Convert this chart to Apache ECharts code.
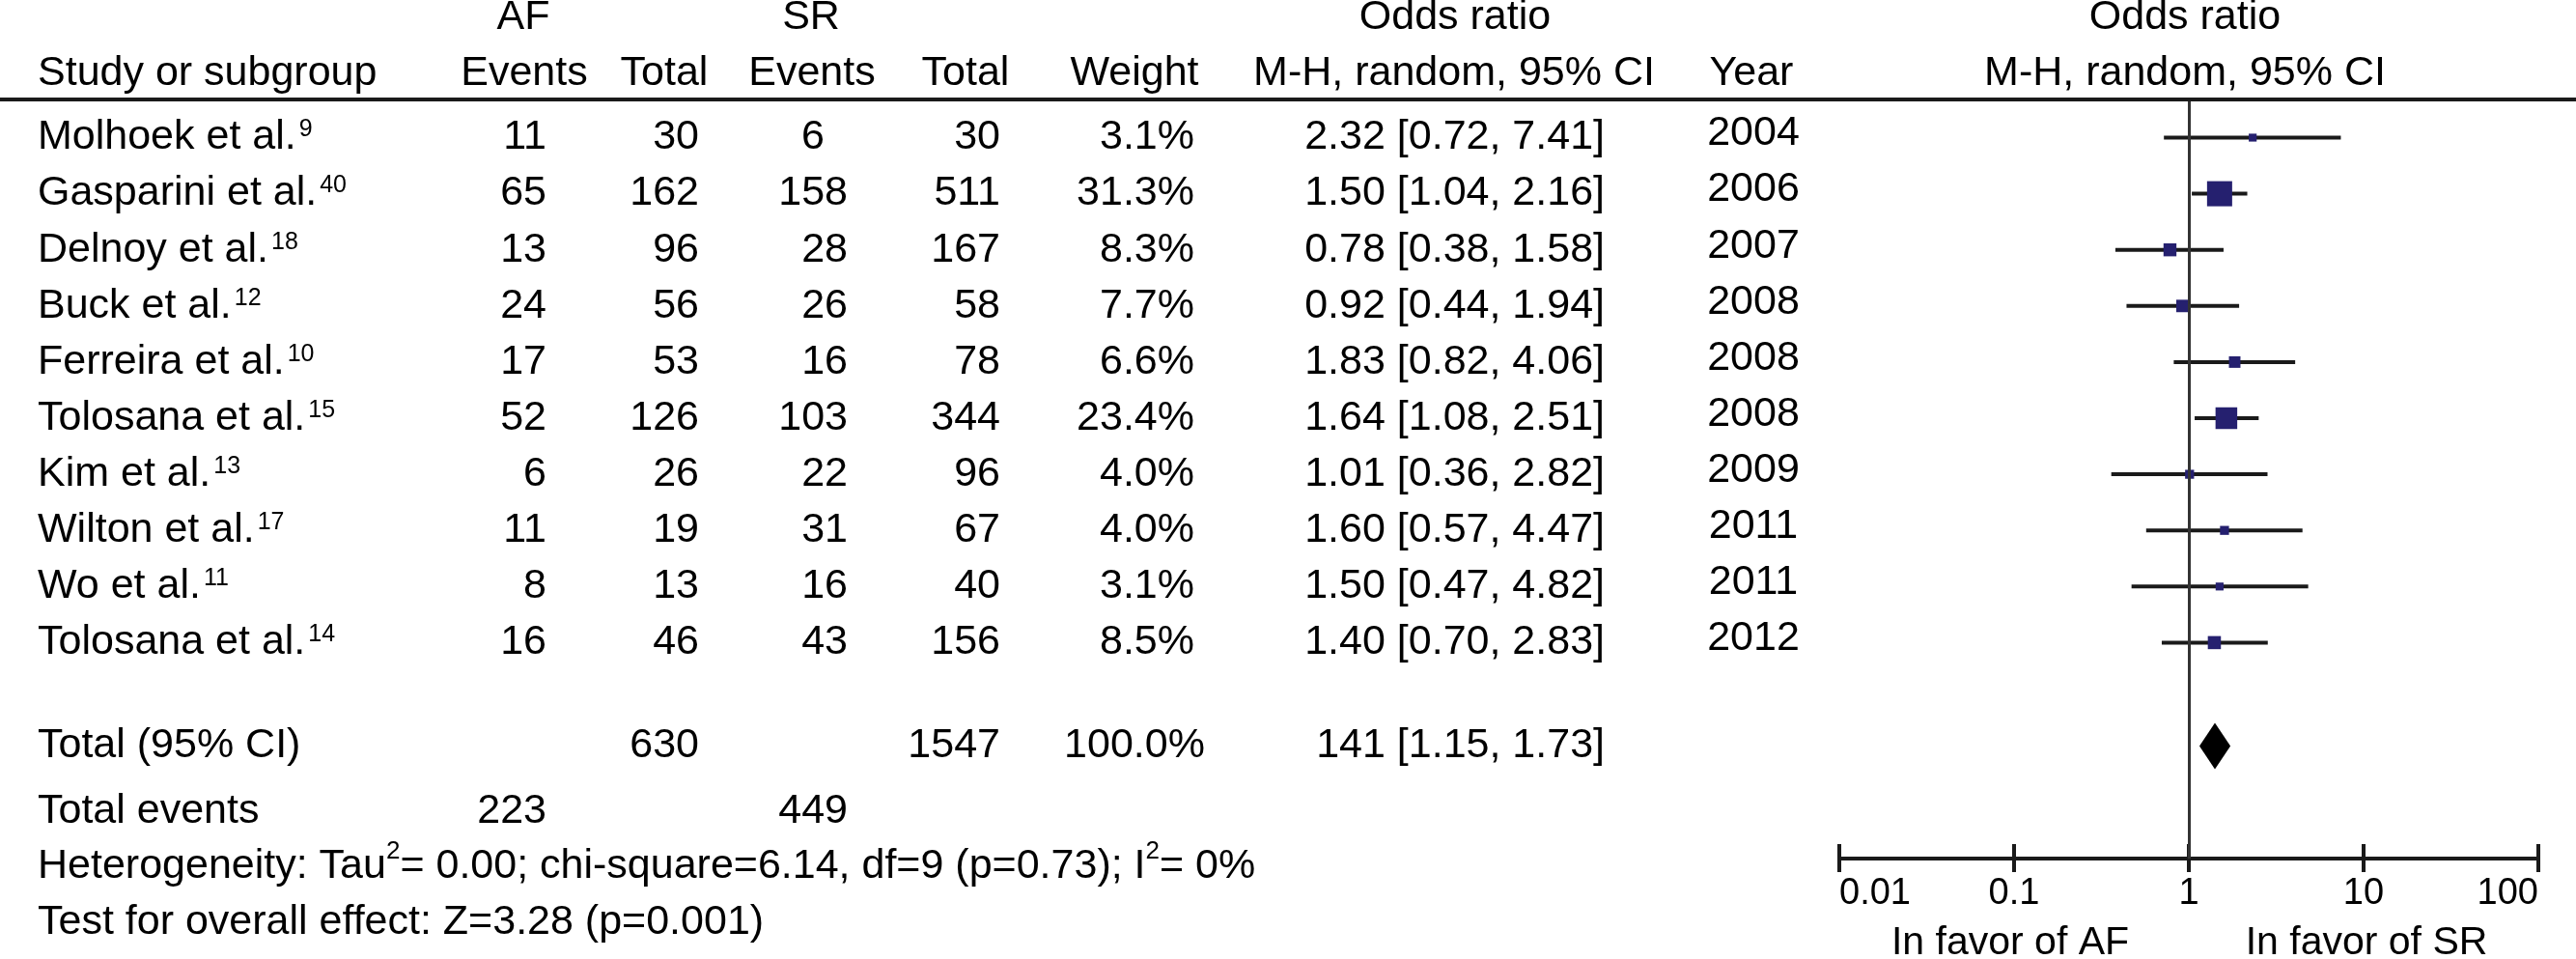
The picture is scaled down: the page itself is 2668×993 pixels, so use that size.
<!DOCTYPE html>
<html><head><meta charset="utf-8">
<script src="https://cdn.jsdelivr.net/npm/echarts@6/dist/echarts.min.js"></script>
<style>html,body{margin:0;padding:0;background:#fff}#c{width:2668px;height:993px}</style>
</head><body><div id="c"></div>
<script>
// ---------------- DATA ----------------
const studies = ['Molhoek et al.', 'Gasparini et al.', 'Delnoy et al.', 'Buck et al.', 'Ferreira et al.', 'Tolosana et al.', 'Kim et al.', 'Wilton et al.', 'Wo et al.', 'Tolosana et al.'];
const refs = ['9', '40', '18', '12', '10', '15', '13', '17', '11', '14'];
const afEvents = [11, 65, 13, 24, 17, 52, 6, 11, 8, 16];
const afTotal = [30, 162, 96, 56, 53, 126, 26, 19, 13, 46];
const srEvents = [6, 158, 28, 26, 16, 103, 22, 31, 16, 43];
const srTotal = [30, 511, 167, 58, 78, 344, 96, 67, 40, 156];
const weights = [3.1, 31.3, 8.3, 7.7, 6.6, 23.4, 4.0, 4.0, 3.1, 8.5];
const oddsRatio = [2.32, 1.50, 0.78, 0.92, 1.83, 1.64, 1.01, 1.60, 1.50, 1.40];
const ciLow = [0.72, 1.04, 0.38, 0.44, 0.82, 1.08, 0.36, 0.57, 0.47, 0.70];
const ciHigh = [7.41, 2.16, 1.58, 1.94, 4.06, 2.51, 2.82, 4.47, 4.82, 2.83];
const years = [2004, 2006, 2007, 2008, 2008, 2008, 2009, 2011, 2011, 2012];
const totalLabel = 'Total (95% CI)';
const totalAF = 630, totalSR = 1547, totalWeight = '100.0%';
const totalOR = 1.41, totalLow = 1.15, totalHigh = 1.73;
const totalORLabel = '141 [1.15, 1.73]';
const eventsLabel = 'Total events';
const eventsAF = 223, eventsSR = 449;
const heterogeneityText = 'Heterogeneity: Tau{h|2}= 0.00; chi-square=6.14, df=9 (p=0.73); I{h|2}= 0%';
const overallText = 'Test for overall effect: Z=3.28 (p=0.001)';
const tickValues = [0.01, 0.1, 1, 10, 100];
const tickLabels = ['0.01', '0.1', '1', '10', '100'];
const favorLabels = ['In favor of AF', 'In favor of SR'];
const groupHeaders = ['AF', 'SR', 'Odds ratio', 'Odds ratio'];
const columnHeaders = ['Study or subgroup', 'Events', 'Total', 'Events', 'Total', 'Weight', 'M-H, random, 95% CI', 'Year', 'M-H, random, 95% CI'];

// ---------------- LAYOUT / STYLE ----------------
const FONT = '"Liberation Sans", Arial, Helvetica, sans-serif';
const FS = 43;
const W = 2668, H = 993;
const GRID_LEFT = 1905, GRID_RIGHT_X = 2629, GRID_TOP = 103, AXIS_Y = 889;
const ROW_PX = 58.1, FIRST_ROW_Y = 142.5;
const yMin = -(FIRST_ROW_Y - GRID_TOP) / ROW_PX;
const yMax = yMin + (AXIS_Y - GRID_TOP) / ROW_PX;
const slot = px => (px - FIRST_ROW_Y) / ROW_PX;
const COL = { name: 39, afE: 566, afT: 724, srE: 878, srEc: 842, srT: 1036, wt: 1237, wtC: 1175, or: 1662, year: 1816 };
const groupHeaderX = [542, 840, 1507, 2263];
const columnHeaderX = [39, 543, 688, 841, 1000, 1175, 1506, 1814, 2263];
const HEAD1_Y = 18, HEAD2_Y = 76;
const SQUARE_COLOR = '#25206f';
const LINE_COLOR = '#1a1a1a';

const SUP_RICH = { s: { fontSize: 25, fontFamily: FONT, fill: '#000', color: '#000', padding: [0, 0, 16, 3] } };
const HET_RICH = { h: { fontSize: 26, fontFamily: FONT, fill: '#000', color: '#000', padding: [0, 0, 30, 0] } };

function T(x, y, text, align, extra) {
  return {
    type: 'text',
    style: Object.assign({
      x: x, y: y, text: text, fill: '#000', fontSize: FS, fontFamily: FONT,
      align: align || 'left', textAlign: align || 'left',
      verticalAlign: 'middle', textVerticalAlign: 'middle'
    }, extra || {})
  };
}

const chart = echarts.init(document.getElementById('c'), null, { renderer: 'canvas', width: W, height: H });

const graphics = [
  { type: 'line', shape: { x1: 0, y1: GRID_TOP, x2: W, y2: GRID_TOP }, style: { stroke: LINE_COLOR, lineWidth: 4 }, z: 10 }
];
groupHeaders.forEach((t, k) => graphics.push(T(groupHeaderX[k], HEAD1_Y, t, 'center')));
columnHeaders.forEach((t, k) => graphics.push(T(columnHeaderX[k], HEAD2_Y, t, k === 0 ? 'left' : 'center')));

function tickFormatter(v) {
  const idx = tickValues.findIndex(t => Math.abs(Math.log10(t) - Math.log10(v)) < 1e-6);
  return idx >= 0 ? tickLabels[idx] : '';
}

const option = {
  animation: false,
  backgroundColor: '#fff',
  grid: { left: GRID_LEFT, right: W - GRID_RIGHT_X, top: GRID_TOP, bottom: H - AXIS_Y, containLabel: false },
  xAxis: [{
    type: 'log', logBase: 10, min: 0.01, max: 100, position: 'bottom',
    axisLine: { show: true, onZero: false, lineStyle: { color: LINE_COLOR, width: 4 } },
    axisTick: { show: true, inside: false, length: 14, lineStyle: { color: LINE_COLOR, width: 4 } },
    axisLabel: { show: true, color: '#000', fontSize: 38, fontFamily: FONT, margin: 18,
      alignMinLabel: 'left', alignMaxLabel: 'right', formatter: tickFormatter },
    splitLine: { show: false }, minorTick: { show: false }
  }, {
    type: 'log', logBase: 10, min: 0.01, max: 100, position: 'bottom',
    axisLine: { show: false, onZero: false },
    axisTick: { show: true, inside: true, length: 15, lineStyle: { color: LINE_COLOR, width: 4 } },
    axisLabel: { show: false }, splitLine: { show: false }
  }],
  yAxis: { type: 'value', inverse: true, min: yMin, max: yMax, show: false },
  graphic: graphics,
  series: [
    {
      // reference line at OR = 1
      type: 'custom', xAxisIndex: 0, z: 1, silent: true,
      data: [[1, 0]], encode: { x: 0, y: 1 },
      renderItem: () => ({ type: 'group', children: [] }),
      markLine: {
        silent: true, symbol: 'none', label: { show: false },
        lineStyle: { color: '#333', width: 3, type: 'solid' },
        data: [{ xAxis: 1 }]
      }
    },
    {
      // table rows
      type: 'custom', xAxisIndex: 0, z: 5, silent: true,
      data: studies.map((_, i) => [1, i]), encode: { x: 0, y: 1 },
      renderItem: (params, api) => {
        const i = params.dataIndex;
        const y = api.coord([1, i])[1];
        return {
          type: 'group', children: [
            T(COL.name, y, studies[i] + '{s|' + refs[i] + '}', 'left', { rich: SUP_RICH }),
            T(COL.afE, y, String(afEvents[i]), 'right'),
            T(COL.afT, y, String(afTotal[i]), 'right'),
            i === 0 ? T(COL.srEc, y, String(srEvents[i]), 'center') : T(COL.srE, y, String(srEvents[i]), 'right'),
            T(COL.srT, y, String(srTotal[i]), 'right'),
            T(COL.wt, y, weights[i].toFixed(1) + '%', 'right'),
            T(COL.or, y, oddsRatio[i].toFixed(2) + ' [' + ciLow[i].toFixed(2) + ', ' + ciHigh[i].toFixed(2) + ']', 'right'),
            T(COL.year, y - 4, String(years[i]), 'center')
          ]
        };
      }
    },
    {
      // CI lines and weighted squares
      type: 'custom', xAxisIndex: 0, z: 4, silent: true,
      data: oddsRatio.map((v, i) => [v, i, ciLow[i], ciHigh[i], weights[i]]),
      encode: { x: [0, 2, 3], y: 1 },
      renderItem: (params, api) => {
        const r = api.value(1);
        const p = api.coord([api.value(0), r]);
        const lo = api.coord([api.value(2), r]);
        const hi = api.coord([api.value(3), r]);
        const s = 4.65 * Math.sqrt(api.value(4));
        return {
          type: 'group', children: [
            { type: 'line', shape: { x1: lo[0], y1: lo[1], x2: hi[0], y2: hi[1] }, style: { stroke: LINE_COLOR, lineWidth: 4 } },
            { type: 'rect', shape: { x: p[0] - s / 2, y: p[1] - s / 2, width: s, height: s }, style: { fill: SQUARE_COLOR } }
          ]
        };
      }
    },
    {
      // pooled diamond
      type: 'custom', xAxisIndex: 0, z: 4, silent: true,
      data: [[totalOR, slot(772.5), totalLow, totalHigh]], encode: { x: [0, 2, 3], y: 1 },
      renderItem: (params, api) => {
        const r = api.value(1);
        const c = api.coord([api.value(0), r]);
        const lo = api.coord([api.value(2), r]);
        const hi = api.coord([api.value(3), r]);
        const hh = 24;
        return {
          type: 'polygon',
          shape: { points: [[lo[0], c[1]], [c[0], c[1] - hh], [hi[0], c[1]], [c[0], c[1] + hh]] },
          style: { fill: '#000' }
        };
      }
    },
    {
      // footer rows and favour labels
      type: 'custom', xAxisIndex: 0, z: 5, silent: true,
      data: [[1, 0]], encode: { x: 0, y: 1 },
      renderItem: (params, api) => {
        const yT = api.coord([1, slot(772.5)])[1];
        const yE = api.coord([1, slot(840)])[1];
        const yH = api.coord([1, slot(897)])[1];
        const yZ = api.coord([1, slot(955)])[1];
        const yF = api.coord([1, slot(977)])[1];
        const xAF = api.coord([0.1, 0])[0];
        const xSR = api.coord([10, 0])[0];
        return {
          type: 'group', children: [
            T(COL.name, yT, totalLabel, 'left'),
            T(COL.afT, yT, String(totalAF), 'right'),
            T(COL.srT, yT, String(totalSR), 'right'),
            T(COL.wtC, yT, totalWeight, 'center'),
            T(COL.or, yT, totalORLabel, 'right'),
            T(COL.name, yE, eventsLabel, 'left'),
            T(COL.afE, yE, String(eventsAF), 'right'),
            T(COL.srE, yE, String(eventsSR), 'right'),
            T(COL.name, yH, heterogeneityText, 'left', { rich: HET_RICH }),
            T(COL.name, yZ, overallText, 'left'),
            T(xAF - 4, yF, favorLabels[0], 'center', { fontSize: 41 }),
            T(xSR + 3, yF, favorLabels[1], 'center', { fontSize: 41 })
          ]
        };
      }
    }
  ]
};
chart.setOption(option);
</script>
</body></html>
